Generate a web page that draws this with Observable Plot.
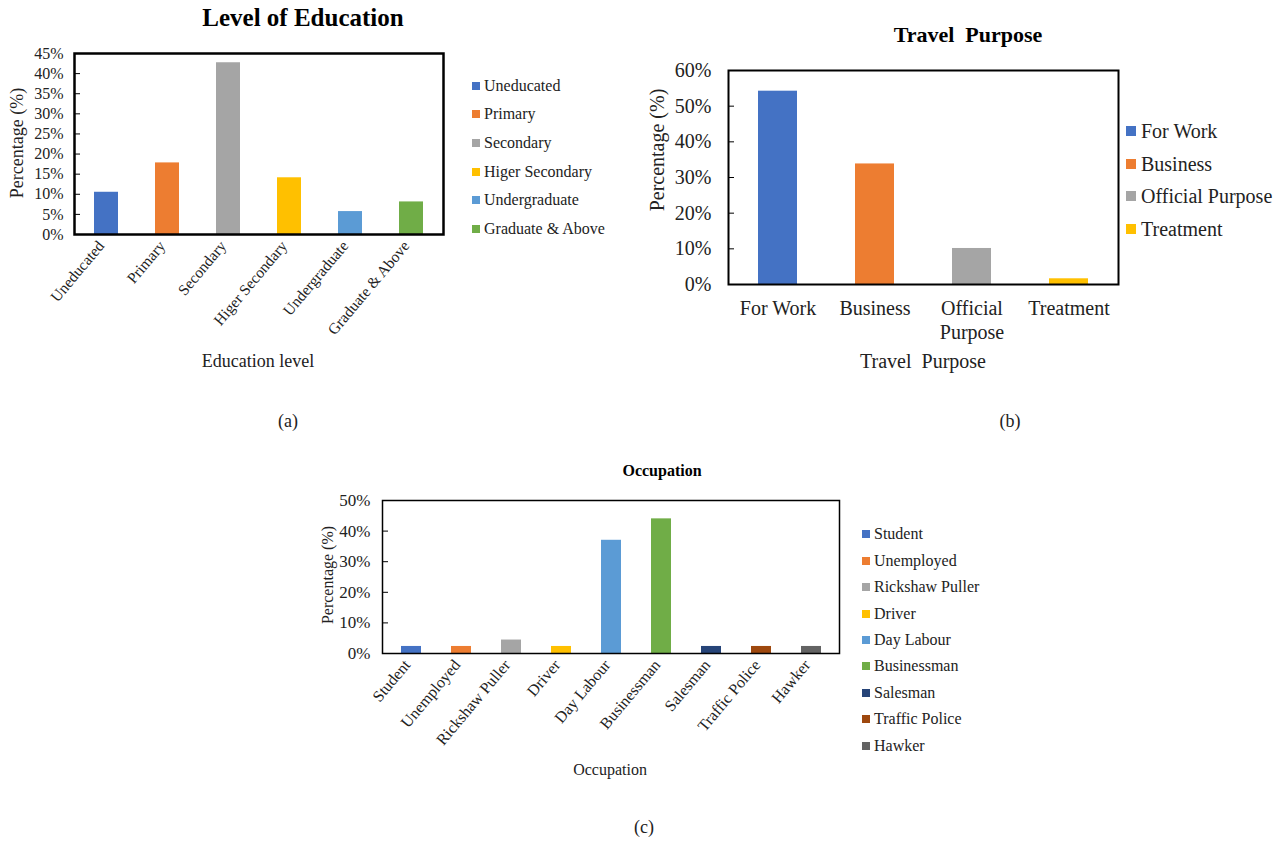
<!DOCTYPE html>
<html><head><meta charset="utf-8">
<script src="https://cdn.jsdelivr.net/npm/d3@7"></script>
<script src="https://cdn.jsdelivr.net/npm/@observablehq/plot@0.6"></script>
<style>
body{margin:0;background:#fff;}
#page{position:relative;width:1288px;height:842px;font-family:'Liberation Serif','Times New Roman',serif;color:#000;overflow:hidden;background:#fff}
.abs{position:absolute;white-space:pre;line-height:1}
.c{transform:translate(-50%,-50%)}
.rot{transform:translate(-50%,-50%) rotate(-90deg)}
.sq{position:absolute}
svg{overflow:visible}
</style></head><body><div id="page"></div>
<script>
// ---- Data ----
const eduCats = ["Uneducated","Primary","Secondary","Higer Secondary","Undergraduate","Graduate & Above"];
const eduVals = [10.5, 17.8, 42.7, 14.1, 5.7, 8.1];
const eduColors = ["#4472C4","#ED7D31","#A5A5A5","#FFC000","#5B9BD5","#70AD47"];
const eduTicks = [0,5,10,15,20,25,30,35,40,45];

const purCats = ["For Work","Business","Official Purpose","Treatment"];
const purTickLabels = ["For Work","Business","Official\nPurpose","Treatment"];
const purVals = [54.2, 33.8, 10.1, 1.6];
const purColors = ["#4472C4","#ED7D31","#A5A5A5","#FFC000"];
const purTicks = [0,10,20,30,40,50,60];

const occCats = ["Student","Unemployed","Rickshaw Puller","Driver","Day Labour","Businessman","Salesman","Traffic Police","Hawker"];
const occVals = [2.3, 2.3, 4.4, 2.3, 37.0, 44.0, 2.3, 2.3, 2.3];
const occColors = ["#4472C4","#ED7D31","#A5A5A5","#FFC000","#5B9BD5","#70AD47","#264478","#9E480E","#636363"];
const occTicks = [0,10,20,30,40,50];

const page = document.getElementById("page");

function chart(o){
  const data = o.cats.map((c,i)=>({cat:c, val:o.vals[i]}));
  const p = Plot.plot({
    width:o.width, height:o.height,
    marginLeft:o.m[3], marginRight:o.m[1], marginTop:o.m[0], marginBottom:o.m[2],
    x:{domain:o.cats, paddingInner:0.6, paddingOuter:0.3},
    y:{domain:[0,o.ymax]},
    color:{domain:o.cats, range:o.colors},
    style:{fontFamily:"'Liberation Serif','Times New Roman',serif", fontSize:o.fs+"px", color:"black", background:"transparent", overflow:"visible"},
    marks:[
      Plot.barY(data,{x:"cat", y:"val", fill:"cat"}),
      Plot.axisY({ticks:o.ticks, tickSize:6, dx:6, fill:"none", stroke:"black", label:null}),
      Plot.axisY({ticks:o.ticks, tickSize:0, tickPadding:o.py, tickFormat:d=>d+"%", label:null, fontSize:o.fs, fill:"#222"}),
      Plot.axisX({tickSize:0, tickPadding:o.px, tickRotate:o.rot, dx:o.dx||0, lineHeight:1.2, tickFormat:o.xfmt||(d=>d), label:null, fontSize:o.xfs, fill:"#222"}),
      Plot.frame({stroke:"black", strokeWidth:o.fw})
    ]
  });
  p.style.position="absolute"; p.style.left=o.left+"px"; p.style.top=o.top+"px";
  page.appendChild(p);
}

function txt(s,x,y,size,opts={}){
  const d=document.createElement("div");
  d.className="abs "+(opts.rot?"rot":"c");
  d.textContent=s; d.style.left=x+"px"; d.style.top=y+"px"; d.style.fontSize=size+"px";
  if(opts.bold) d.style.fontWeight="bold";
  d.style.color = opts.color || "#222";
  page.appendChild(d);
}

function legend(cats,colors,sx,tx,y0,dy,sq,fs){
  cats.forEach((c,i)=>{
    const y=y0+i*dy;
    const s=document.createElement("div"); s.className="sq";
    s.style.left=sx+"px"; s.style.top=(y-sq/2)+"px"; s.style.width=sq+"px"; s.style.height=sq+"px"; s.style.background=colors[i];
    page.appendChild(s);
    const t=document.createElement("div"); t.className="abs";
    t.textContent=c; t.style.left=tx+"px"; t.style.top=(y-fs/2)+"px"; t.style.fontSize=fs+"px"; t.style.color="#222";
    page.appendChild(t);
  });
}

// (a) Level of Education
chart({cats:eduCats, vals:eduVals, colors:eduColors, ticks:eduTicks, ymax:45,
  width:460, height:400, m:[53,17,166,74], left:0, top:0, fs:16, xfs:15.5, py:11, px:8, rot:-50, dx:-6, fw:2.5});
txt("Level of Education",303,17,25,{bold:true,color:"#000"});
txt("Percentage (%)",17,143,18,{rot:true});
txt("Education level",258,361,18);
legend(eduCats,eduColors,472,484,85.7,28.6,8,16);
txt("(a)",288,421,18);

// (b) Travel Purpose
chart({cats:purCats, vals:purVals, colors:purColors, ticks:purTicks, ymax:60,
  width:490, height:400, m:[70,12,116,88], left:640, top:0, fs:20, xfs:20, py:17, px:13, rot:0, fw:2,
  xfmt:d=>purTickLabels[purCats.indexOf(d)]});
txt("Travel  Purpose",968,35,22,{bold:true,color:"#000"});
txt("Percentage (%)",657,150,20,{rot:true});
txt("Travel  Purpose",923,361,20);
legend(purCats,purColors,1126,1141,131,32.7,10,20);
txt("(b)",1010,421,18);

// (c) Occupation
chart({cats:occCats, vals:occVals, colors:occColors, ticks:occTicks, ymax:50,
  width:550, height:350, m:[50,11,147,82], left:300, top:450, fs:17, xfs:16, py:12, px:8, rot:-50, dx:-5, fw:1.5});
txt("Occupation",662,471,16,{bold:true,color:"#000"});
txt("Percentage (%)",328,575,16,{rot:true});
txt("Occupation",610,770,16);
legend(occCats,occColors,862,874,534.3,26.4,8,16);
txt("(c)",644,827,18);
</script></body></html>
